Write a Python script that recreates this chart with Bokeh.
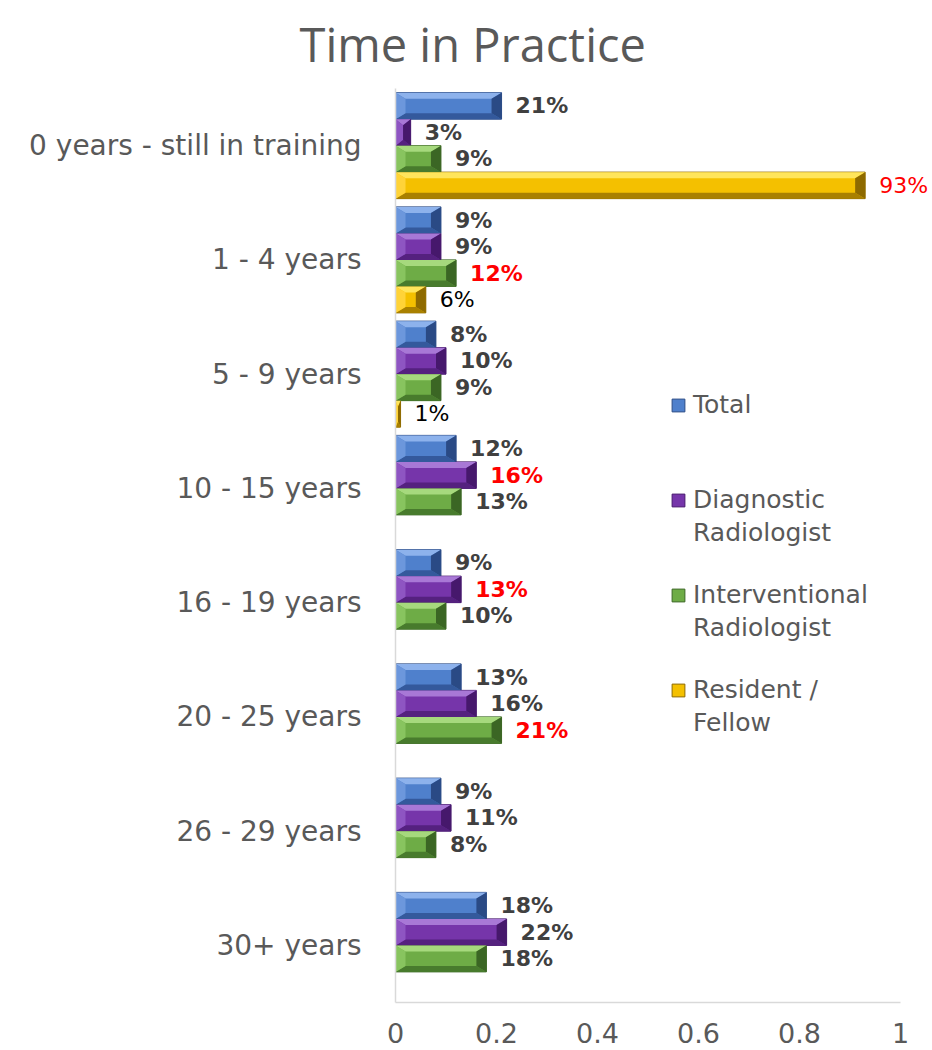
from bokeh.plotting import figure
from bokeh.models import ColumnDataSource, Range1d, FixedTicker, Legend, LegendItem, Title
from bokeh.core.properties import value, field
from bokeh.embed import file_html
from bokeh.resources import INLINE

# ---------------- data ----------------
categories = ["0 years - still in training", "1 - 4 years", "5 - 9 years", "10 - 15 years",
              "16 - 19 years", "20 - 25 years", "26 - 29 years", "30+ years"]
series_names = ["Total", "Diagnostic Radiologist", "Interventional Radiologist", "Resident / Fellow"]
legend_first_lines = ["Total", "Diagnostic", "Interventional", "Resident /"]
legend_second_lines = ["", "Radiologist", "Radiologist", "Fellow"]
total = [0.21, 0.09, 0.08, 0.12, 0.09, 0.13, 0.09, 0.18]
diagnostic = [0.03, 0.09, 0.10, 0.16, 0.13, 0.16, 0.11, 0.22]
interventional = [0.09, 0.12, 0.09, 0.13, 0.10, 0.21, 0.08, 0.18]
resident = [0.93, 0.06, 0.01, None, None, None, None, None]
x_ticks = [0, 0.2, 0.4, 0.6, 0.8, 1]
x_tick_labels = ["0", "0.2", "0.4", "0.6", "0.8", "1"]
title_text = "Time in Practice"

series = [total, diagnostic, interventional, resident]

# ---------------- styles ----------------
# (face, top facet, left facet, right facet, bottom facet, outline)
palettes = [
    ("#4F80CC", "#8DB2EC", "#6C97DC", "#2A4A85", "#34599C", "#2C4C86"),
    ("#7635AA", "#A878D6", "#8E55C2", "#46186C", "#55217F", "#47196D"),
    ("#6EAC46", "#A6D97D", "#88C45F", "#3B6624", "#487B2D", "#3C6725"),
    ("#F4C000", "#FFE55C", "#FFD338", "#8E6A00", "#A98000", "#8E6A00"),
]
label_default = ("#404040", "bold")
label_special = {  # (series index, category index) -> (color, style)
    (1, 3): ("#FF0000", "bold"), (1, 4): ("#FF0000", "bold"),
    (2, 1): ("#FF0000", "bold"), (2, 5): ("#FF0000", "bold"),
    (3, 0): ("#FF0000", "normal"), (3, 1): ("#000000", "normal"), (3, 2): ("#000000", "normal"),
}

W, H = 930, 1050
FL, FT, FB = 395, 88, 48          # frame left / top / bottom borders (canvas px)
PX_PER_UNIT = 505.0
frame_w = W - FL
frame_h = H - FT - FB
x_max = frame_w / PX_PER_UNIT
n = len(categories)
band_px = frame_h / n
bar_h = 26.5 / band_px
hh = bar_h / 2
dx_b = 10.0 / PX_PER_UNIT
dy_b = 6.0 / band_px

p = figure(width=W, height=H, output_backend="svg", toolbar_location=None,
           x_range=Range1d(0, x_max), y_range=Range1d(-0.5, n - 0.5),
           min_border_left=FL, min_border_right=0, min_border_top=FT, min_border_bottom=FB,
           title=None)
p.outline_line_color = None
p.xgrid.visible = False
p.ygrid.visible = False
p.background_fill_color = "white"
p.border_fill_color = "white"

p.add_layout(Title(text=title_text, text_font="Open Sans", text_font_size="47px",
                   text_font_style="normal", text_color="#595959",
                   align="left", offset=-96, standoff=22, vertical_align="top"), "above")

legend_items = []
facet_xs, facet_ys, facet_cols = [], [], []
lab = dict(x=[], y=[], text=[], color=[], style=[])
for k, vals in enumerate(series):
    face, top_c, left_c, right_c, bot_c, edge = palettes[k]
    full = dict(left=[], right=[], bottom=[], top=[])
    inner = dict(left=[], right=[], bottom=[], top=[])
    for i, v in enumerate(vals):
        if v is None:
            continue
        yc = (n - 1 - i) + (1.5 - k) * bar_h
        x0, x1, y0, y1 = 0.0, v, yc - hh, yc + hh
        d = min(dx_b, v / 2)
        e = dy_b
        full["left"].append(x0); full["right"].append(x1)
        full["bottom"].append(y0); full["top"].append(y1)
        inner["left"].append(x0 + d); inner["right"].append(x1 - d)
        inner["bottom"].append(y0 + e); inner["top"].append(y1 - e)
        facet_xs += [[x0, x1, x1 - d, x0 + d], [x0, x1, x1 - d, x0 + d],
                     [x0, x0 + d, x0 + d, x0], [x1, x1 - d, x1 - d, x1]]
        facet_ys += [[y1, y1, y1 - e, y1 - e], [y0, y0, y0 + e, y0 + e],
                     [y0, y0 + e, y1 - e, y1], [y0, y0 + e, y1 - e, y1]]
        facet_cols += [top_c, bot_c, left_c, right_c]
        c, s = label_special.get((k, i), label_default)
        lab["x"].append(v); lab["y"].append(yc)
        lab["text"].append(f"{round(v * 100)}%")
        lab["color"].append(c); lab["style"].append(s)
    r = p.quad(source=ColumnDataSource(full), left="left", right="right", bottom="bottom", top="top",
               fill_color=face, line_color=edge, line_width=1)
    legend_items.append(LegendItem(label=legend_first_lines[k], renderers=[r]))
    p.quad(source=ColumnDataSource(inner), left="left", right="right", bottom="bottom", top="top",
           fill_color=face, line_color=None)

p.patches(source=ColumnDataSource(dict(xs=facet_xs, ys=facet_ys, c=facet_cols)),
          xs="xs", ys="ys", fill_color=field("c"), line_color=None)

p.text(source=ColumnDataSource(lab), x="x", y="y", text="text",
       text_color=field("color"), text_font_style=field("style"),
       text_font=value("DejaVu Sans"), text_font_size="22px",
       text_align="left", text_baseline="middle", x_offset=14)

# axes
p.yaxis.ticker = FixedTicker(ticks=list(range(n)))
p.yaxis.major_label_overrides = {n - 1 - i: c for i, c in enumerate(categories)}
p.yaxis.major_label_text_font = "DejaVu Sans"
p.yaxis.major_label_text_font_size = "28px"
p.yaxis.major_label_text_color = "#595959"
p.yaxis.major_label_standoff = 28
p.yaxis.major_tick_line_color = None
p.yaxis.minor_tick_line_color = None
p.yaxis.axis_line_color = "#D9D9D9"
p.yaxis.axis_line_width = 1.5

p.xaxis.ticker = FixedTicker(ticks=x_ticks)
p.xaxis.major_label_overrides = {t: l for t, l in zip(x_ticks, x_tick_labels)}
p.xaxis.bounds = (0, 1)
p.xaxis.major_label_text_font = "DejaVu Sans"
p.xaxis.major_label_text_font_size = "27px"
p.xaxis.major_label_text_color = "#595959"
p.xaxis.major_label_standoff = 14
p.xaxis.major_tick_line_color = None
p.xaxis.minor_tick_line_color = None
p.xaxis.axis_line_color = "#D9D9D9"
p.xaxis.axis_line_width = 1.5

# legend: first lines with glyphs, second lines as a glyph-less legend below
leg_common = dict(orientation="vertical", glyph_width=16, glyph_height=16, label_standoff=7,
                  spacing=66, padding=0, margin=0, border_line_color=None,
                  background_fill_alpha=0, label_text_font="DejaVu Sans",
                  label_text_font_size="25px", label_text_color="#595959")
legend1 = Legend(items=legend_items, location=(275, 298), **leg_common)
p.add_layout(legend1)

ghost = p.quad(left=[], right=[], bottom=[], top=[], fill_alpha=0, line_alpha=0)
second_items = [LegendItem(label=t, renderers=[ghost]) for t in legend_second_lines if t]
legend2 = Legend(items=second_items, location=(275, 265), **leg_common)
p.add_layout(legend2)

open("out.html", "w").write(file_html(p, INLINE))
